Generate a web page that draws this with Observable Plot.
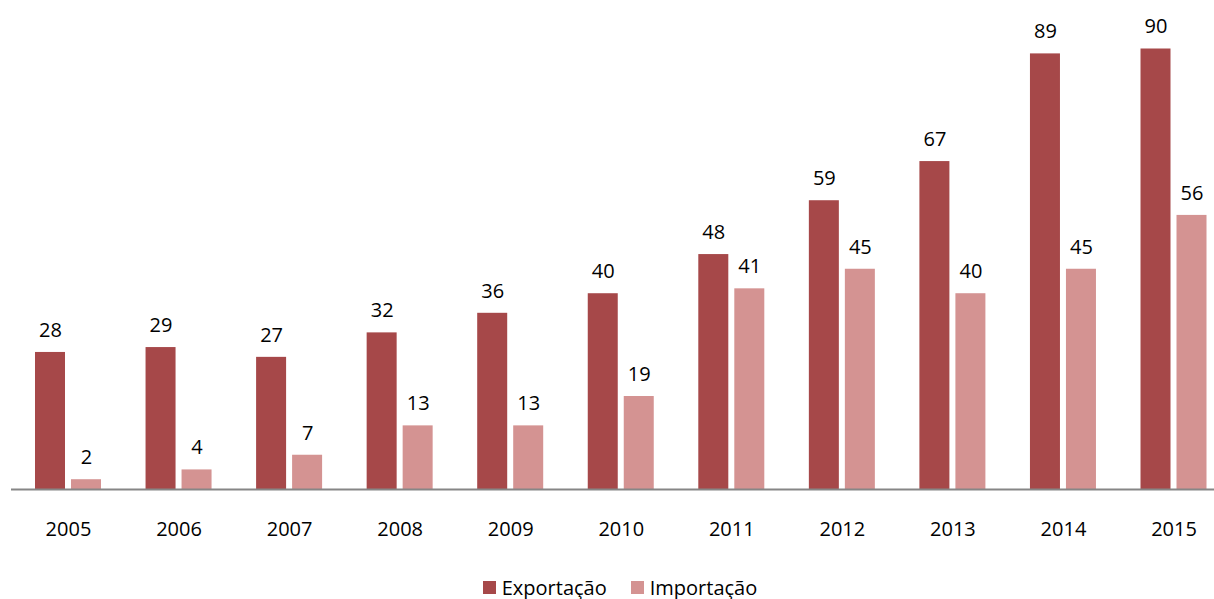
<!DOCTYPE html>
<html>
<head>
<meta charset="utf-8">
<script src="https://cdn.jsdelivr.net/npm/d3@7"></script>
<script src="https://cdn.jsdelivr.net/npm/@observablehq/plot@0.6"></script>
<style>
  html, body { margin: 0; padding: 0; background: #fff; }
  body { position: relative; width: 1214px; height: 599px; overflow: hidden; font-family: "Open Sans", sans-serif; }
  #legend { position: absolute; top: 574px; left: 0; width: 1214px; display: flex; justify-content: center; padding-left: 26px; box-sizing: border-box; font-size: 20px; color: #000; }
  #legend .item { display: inline-flex; align-items: center; margin: 0 12px; }
  #legend .sw { width: 13px; height: 13px; display: inline-block; margin-right: 6px; }
</style>
</head>
<body>
<div id="chart"></div>
<div id="legend"></div>
<script>
const years = ["2005","2006","2007","2008","2009","2010","2011","2012","2013","2014","2015"];
const series = ["Exportação", "Importação"];
const exportacao = [28, 29, 27, 32, 36, 40, 48, 59, 67, 89, 90];
const importacao = [2, 4, 7, 13, 13, 19, 41, 45, 40, 45, 56];
const colors = ["#A64849", "#D49392"];

const exp = years.map((y, i) => ({year: y, series: series[0], value: exportacao[i]}));
const imp = years.map((y, i) => ({year: y, series: series[1], value: importacao[i]}));

const W = 1214, H = 565;
const plot = Plot.plot({
  width: W,
  height: H,
  marginLeft: 11,
  marginRight: 0,
  marginTop: 48.5,
  marginBottom: H - 489,
  style: {fontFamily: "Open Sans, sans-serif", fontSize: "20px", color: "#000", background: "#fff", overflow: "visible"},
  x: {domain: years, range: [12.7, 1228.8], paddingInner: 0.403, paddingOuter: 0.2017, round: false, label: null, tickSize: 0, tickPadding: 32},
  y: {domain: [0, 90], axis: null},
  color: {domain: series, range: colors},
  marks: [
    Plot.barY(exp, {x: "year", y: "value", fill: "series", insetRight: 36}),
    Plot.barY(imp, {x: "year", y: "value", fill: "series", insetLeft: 36}),
    Plot.text(exp, {x: "year", y: "value", text: d => String(d.value), dx: -18, dy: -22, fill: "#000", fontSize: 20}),
    Plot.text(imp, {x: "year", y: "value", text: d => String(d.value), dx: 18, dy: -22, fill: "#000", fontSize: 20}),
    Plot.ruleY([0], {stroke: "#868686", strokeWidth: 2})
  ]
});
document.getElementById("chart").appendChild(plot);

const legend = d3.select("#legend");
series.forEach((s, i) => {
  const it = legend.append("span").attr("class", "item");
  it.append("span").attr("class", "sw").style("background", colors[i]);
  it.append("span").text(s);
});
</script>
</body>
</html>
